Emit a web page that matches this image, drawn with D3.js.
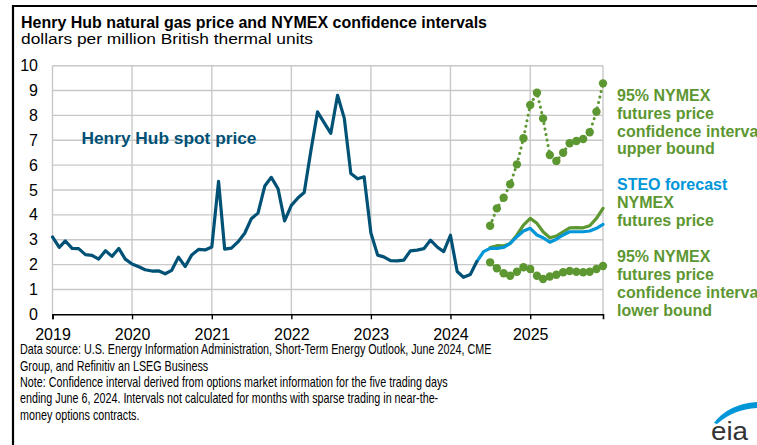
<!DOCTYPE html>
<html>
<head>
<meta charset="utf-8">
<script src="https://cdn.jsdelivr.net/npm/d3@7"></script>
<style>
  body { margin: 0; background: #fff; }
  svg { display: block; font-family: "Liberation Sans", Arial, sans-serif; }
</style>
</head>
<body>
<div id="chart"></div>
<script>
// Henry Hub monthly spot price, Jan 2019 - May 2024
var spot_start = "2019-01";
var spot_values = [
    3.11, 2.69, 2.95, 2.65, 2.64, 2.40, 2.37, 2.22, 2.56, 2.33, 2.65, 2.22,
    2.02, 1.91, 1.79, 1.74, 1.75, 1.63, 1.77, 2.30, 1.92, 2.39, 2.61, 2.59,
    2.71, 5.35, 2.62, 2.66, 2.91, 3.26, 3.84, 4.07, 5.16, 5.51, 5.05, 3.76,
    4.38, 4.69, 4.90, 6.60, 8.14, 7.70, 7.28, 8.81, 7.88, 5.66, 5.45, 5.53,
    3.27, 2.38, 2.31, 2.16, 2.15, 2.18, 2.55, 2.58, 2.64, 2.98, 2.71, 2.52,
    3.18, 1.72, 1.49, 1.60, 2.12
];

// STEO forecast, May 2024 - Dec 2025
var steo_start = "2024-05";
var steo_values = [
    2.12, 2.52, 2.65, 2.65, 2.69, 2.85, 3.12, 3.35,
    3.46, 3.19, 3.08, 2.90, 3.02, 3.19, 3.32, 3.32, 3.32, 3.35, 3.46, 3.62
];

// NYMEX futures and 95% confidence bounds, Jul 2024 - Dec 2025
var nymex_start = "2024-07";
var nymex_values = [
    2.69, 2.76, 2.75, 2.85, 3.19, 3.59,
    3.86, 3.66, 3.32, 3.08, 3.15, 3.32, 3.48, 3.49, 3.48, 3.56, 3.86, 4.26
];
var upper_values = [
    3.56, 4.26, 4.69, 5.23, 6.03, 7.08,
    8.42, 8.91, 7.88, 6.41, 6.17, 6.50, 6.88, 6.97, 7.05, 7.32, 8.15, 9.29
];
var lower_values = [
    2.09, 1.85, 1.65, 1.55, 1.71, 1.89,
    1.82, 1.55, 1.42, 1.52, 1.59, 1.69, 1.74, 1.71, 1.69, 1.71, 1.82, 1.94
];

var y_ticks = [0, 1, 2, 3, 4, 5, 6, 7, 8, 9, 10];
var year_ticks = ["2019", "2020", "2021", "2022", "2023", "2024", "2025"];

var upper_label = ["95% NYMEX", "futures price", "confidence interval", "upper bound"];
var steo_label = ["STEO forecast"];
var nymex_label = ["NYMEX", "futures price"];
var lower_label = ["95% NYMEX", "futures price", "confidence interval", "lower bound"];

var footer_lines = [
    "Data source: U.S. Energy Information Administration, Short-Term Energy Outlook, June 2024, CME",
    "Group, and Refinitiv an LSEG Business",
    "Note: Confidence interval derived from options market information for the five trading days",
    "ending June 6, 2024. Intervals not calculated for months with sparse trading in near-the-",
    "money options contracts."
];

var dark_blue = "#005176",
    light_blue = "#0096d7",
    green = "#5d9732",
    grid_gray = "#c8c8c8";

var parse_month = d3.timeParse("%Y-%m");

function to_series(start, values) {
    var first = parse_month(start);
    return values.map(function(v, i) {
        return { date: d3.timeMonth.offset(first, i), value: v };
    });
}

var spot = to_series(spot_start, spot_values);
var steo = to_series(steo_start, steo_values);
var nymex = to_series(nymex_start, nymex_values);
var upper = to_series(nymex_start, upper_values);
var lower = to_series(nymex_start, lower_values);

var width = 757, height = 445;
var plot = { left: 52.5, right: 603, top: 65.7, bottom: 314.3 };

var svg = d3.select("#chart").append("svg")
    .attr("width", width)
    .attr("height", height);

var x = d3.scaleTime()
    .domain([parse_month("2019-01"), parse_month("2025-12")])
    .range([plot.left, plot.right]);

var y = d3.scaleLinear()
    .domain([0, 10])
    .range([plot.bottom, plot.top]);

// frame
svg.append("line")
    .attr("x1", 12).attr("x2", width).attr("y1", 6).attr("y2", 6)
    .attr("stroke", "#000").attr("stroke-width", 2.2);
svg.append("line")
    .attr("x1", 13).attr("x2", 13).attr("y1", 5).attr("y2", height)
    .attr("stroke", "#000").attr("stroke-width", 2.2);

// titles
svg.append("text")
    .attr("x", 21).attr("y", 27.5)
    .attr("font-size", "16px").attr("font-weight", "bold")
    .attr("fill", "#000")
    .attr("textLength", 466)
    .attr("lengthAdjust", "spacingAndGlyphs")
    .text("Henry Hub natural gas price and NYMEX confidence intervals");
svg.append("text")
    .attr("x", 21).attr("y", 43.5)
    .attr("font-size", "15.5px")
    .attr("fill", "#000")
    .attr("textLength", 292)
    .attr("lengthAdjust", "spacingAndGlyphs")
    .text("dollars per million British thermal units");

// grid
var grid = svg.append("g").attr("class", "grid");
grid.selectAll("line.h")
    .data(y_ticks.filter(function(d) { return d > 0; }))
    .enter().append("line")
    .attr("class", "h")
    .attr("x1", plot.left).attr("x2", plot.right)
    .attr("y1", function(d) { return y(d); })
    .attr("y2", function(d) { return y(d); })
    .attr("stroke", grid_gray).attr("stroke-width", 1.4);

var year_dates = year_ticks.map(function(yr) { return parse_month(yr + "-01"); });
grid.selectAll("line.v")
    .data(year_dates)
    .enter().append("line")
    .attr("class", "v")
    .attr("x1", function(d) { return x(d); })
    .attr("x2", function(d) { return x(d); })
    .attr("y1", plot.top).attr("y2", plot.bottom)
    .attr("stroke", grid_gray).attr("stroke-width", 1.4);
grid.append("line")
    .attr("x1", plot.right).attr("x2", plot.right)
    .attr("y1", plot.top).attr("y2", plot.bottom)
    .attr("stroke", grid_gray).attr("stroke-width", 1.4);

// y axis labels
var y_axis = svg.append("g")
    .attr("transform", "translate(" + plot.left + ",0)")
    .call(d3.axisLeft(y).tickValues(y_ticks).tickSize(0).tickPadding(14.5));
y_axis.select(".domain").remove();
y_axis.selectAll("text")
    .attr("font-family", "Liberation Sans, Arial, sans-serif")
    .attr("font-size", "16px")
    .attr("fill", "#000");

// x axis
var x_axis = svg.append("g")
    .attr("transform", "translate(0," + plot.bottom + ")")
    .call(d3.axisBottom(x).tickValues(year_dates).tickSize(5).tickFormat(d3.timeFormat("%Y")));
x_axis.select(".domain").attr("stroke", "#000").attr("stroke-width", 1.6);
x_axis.selectAll(".tick line").attr("stroke", "#000").attr("stroke-width", 1.4);
x_axis.selectAll("text")
    .attr("font-family", "Liberation Sans, Arial, sans-serif")
    .attr("font-size", "16px")
    .attr("fill", "#000")
    .attr("y", 14).attr("dy", "0.71em");

var line = d3.line()
    .x(function(d) { return x(d.date); })
    .y(function(d) { return y(d.value); });

var lines = svg.append("g").attr("fill", "none").attr("stroke-linejoin", "round").attr("stroke-linecap", "round");

// confidence bounds: dotted line with dot markers
[upper, lower].forEach(function(series) {
    lines.append("path")
        .datum(series)
        .attr("d", line)
        .attr("stroke", green)
        .attr("stroke-width", 3)
        .attr("stroke-dasharray", "0.1 5.5");
    svg.append("g").selectAll("circle")
        .data(series)
        .enter().append("circle")
        .attr("cx", function(d) { return x(d.date); })
        .attr("cy", function(d) { return y(d.value); })
        .attr("r", 4.2)
        .attr("fill", green);
});

lines.append("path")
    .datum(nymex)
    .attr("d", line)
    .attr("stroke", green)
    .attr("stroke-width", 3.2);

lines.append("path")
    .datum(steo)
    .attr("d", line)
    .attr("stroke", light_blue)
    .attr("stroke-width", 3.2);

lines.append("path")
    .datum(spot)
    .attr("d", line)
    .attr("stroke", dark_blue)
    .attr("stroke-width", 3.2);

// inline labels
svg.append("text")
    .attr("x", 81.5).attr("y", 144)
    .attr("font-size", "16.5px").attr("font-weight", "bold")
    .attr("fill", dark_blue)
    .attr("textLength", 175)
    .attr("lengthAdjust", "spacingAndGlyphs")
    .text("Henry Hub spot price");

function label_block(lines_text, x0, y0, color) {
    var t = svg.append("text")
        .attr("x", x0).attr("y", y0)
        .attr("font-size", "16px").attr("font-weight", "bold")
        .attr("fill", color);
    t.selectAll("tspan")
        .data(lines_text)
        .enter().append("tspan")
        .attr("x", x0)
        .attr("dy", function(d, i) { return i === 0 ? 0 : 17.8; })
        .text(function(d) { return d; });
}

label_block(upper_label, 617, 101, green);
label_block(steo_label, 617, 190, light_blue);
label_block(nymex_label, 617, 208, green);
label_block(lower_label, 617, 262.3, green);

// footer: narrow type, squeezed uniformly so the first line spans 472px
var footer = svg.append("g");
var footer_text = footer.selectAll("text")
    .data(footer_lines)
    .enter().append("text")
    .attr("x", 0)
    .attr("y", function(d, i) { return 354.5 + i * 16.3; })
    .attr("font-family", "Liberation Sans Narrow, Arial Narrow, Liberation Sans, sans-serif")
    .attr("font-size", "14px")
    .attr("fill", "#000")
    .text(function(d) { return d; });
var first_len = footer_text.node().getComputedTextLength();
var sx = 472 / first_len;
footer.attr("transform", "translate(20,0) scale(" + sx + ",1)");

// eia logo
var logo = svg.append("g");
logo.append("path")
    .attr("d", "M714,423 Q728,404 757,402 L757,408 Q734,409 717,424 Z")
    .attr("fill", light_blue);
logo.append("text")
    .attr("x", 711).attr("y", 440)
    .attr("font-size", "25px")
    .attr("fill", "#333")
    .attr("textLength", 37)
    .attr("lengthAdjust", "spacingAndGlyphs")
    .text("eia");
</script>
</body>
</html>
